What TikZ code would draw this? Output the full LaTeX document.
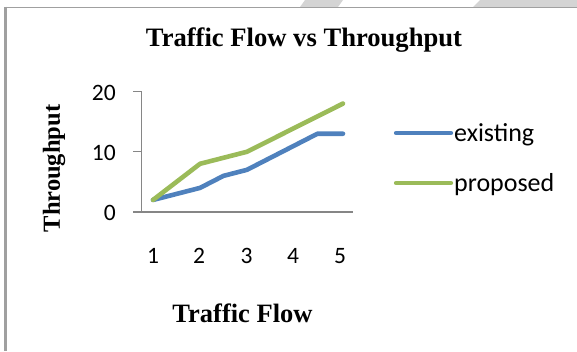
\documentclass[tikz,border=0pt]{standalone}
\usepackage{fontspec}
\setmainfont{Liberation Serif}
\newfontfamily\calfont{Carlito}
\definecolor{serA}{HTML}{4F81BD}
\definecolor{serB}{HTML}{9BBB59}
\definecolor{axisgray}{HTML}{868686}
\definecolor{framegray}{HTML}{A0A0A0}
\definecolor{stripegray}{HTML}{D4D4D4}
\tikzset{
  ttl/.style={font=\fontsize{26.6}{30}\selectfont\bfseries, inner sep=0pt},
  axttl/.style={font=\fontsize{26.5}{30}\selectfont\bfseries, inner sep=0pt},
  yttl/.style={font=\fontsize{24.5}{28}\selectfont\bfseries, inner sep=0pt},
  ticklbl/.style={font=\calfont\fontsize{23.5}{28}\selectfont, inner sep=0pt},
  leglbl/.style={font=\calfont\fontsize{26}{30}\selectfont, inner sep=0pt, anchor=west},
  axisline/.style={draw=axisgray, line width=1.1pt},
  series/.style={line width=4.6pt, line cap=round, line join=round},
}
\begin{document}
\begin{tikzpicture}[x=1pt,y=-1pt]
\useasboundingbox (0,0) rectangle (577,351);
% top stripes and frame
\fill[stripegray] (305,0) -- (343,0) -- (338,7) -- (300,7) -- cycle;
\fill[stripegray] (480,0) -- (577,0) -- (577,7) -- (473,7) -- cycle;
\draw[framegray, line width=1.5pt] (4,7.3) -- (577,7.3);
\draw[framegray, line width=3pt] (5,6.5) -- (5,351);
% title
\node[ttl, anchor=base] (title) at (304,46) {Traffic Flow vs Throughput};
% axes
\coordinate (ytop) at (141.5,91.5);
\coordinate (orig) at (141.5,212);
\coordinate (xend) at (353,212);
\coordinate (xstart) at (133,212);
\draw[axisline] (ytop) -- (orig);
\draw[axisline] (xstart) -- (xend);
\draw[axisline] (133,91.5) -- (ytop);
\draw[axisline] (133,151.75) -- (141.5,151.75);
% y tick labels
\node[ticklbl, anchor=east] (y20) at (116,92.5) {20};
\node[ticklbl, anchor=east] (y10) at (116,152.5) {10};
\node[ticklbl, anchor=east] (y0) at (116,213) {0};
% x tick labels
\foreach \k/\xx in {1/153,2/199,3/246.5,4/293,5/340}
  \node[ticklbl] (x\k) at (\xx,256) {\k};
% axis titles
\node[yttl, rotate=90] (ytitle) at (54,168.5) {Throughput};
\node[axttl, anchor=base] (xtitle) at (242.5,322) {Traffic Flow};
% series
\draw[series, serA] (153,199.95) -- (200,187.9) -- (223.5,175.85) -- (247,169.8)
   -- (317.5,133.7) -- (341,133.7) -- (343,133.7);
\draw[series, serB] (153,199.95) -- (200,163.8) -- (247,151.75) -- (343,103.55);
% legend
\coordinate (la1) at (396,133);
\coordinate (la2) at (451,133);
\coordinate (lb1) at (396,183);
\coordinate (lb2) at (451,183);
\draw[series, serA, line width=4.2pt] (la1) -- (la2);
\draw[series, serB, line width=4.2pt] (lb1) -- (lb2);
\node[leglbl] (lega) at (454,135) {existing};
\node[leglbl] (legb) at (454,185) {proposed};
\end{tikzpicture}
\end{document}
